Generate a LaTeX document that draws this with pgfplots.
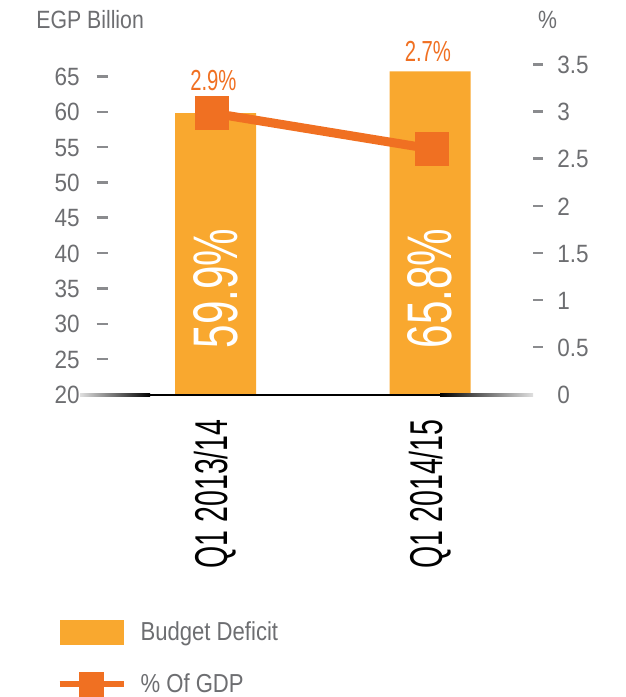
\documentclass[border=0pt]{standalone}
\usepackage{fontspec}
\setmainfont{Liberation Sans}
\newfontfamily\condBar{Liberation Sans}[FakeStretch=0.67]
\newfontfamily\condX{Liberation Sans}[FakeStretch=0.62]
\newfontfamily\condO{Liberation Sans}[FakeStretch=0.70]
\newfontfamily\condT{Liberation Sans}[FakeStretch=0.90]
\newfontfamily\condL{Liberation Sans}[FakeStretch=0.85]
\usepackage{pgfplots}
\pgfplotsset{compat=1.18}
\definecolor{barc}{HTML}{F9A82F}
\definecolor{linec}{HTML}{F07022}
\definecolor{txtgray}{HTML}{6D6E71}
\definecolor{dashgray}{HTML}{8A8B8E}
\newcommand{\ld}[1]{\makebox[13pt][r]{#1}\hspace{8.5pt}\textcolor{dashgray}{\rule[4pt]{5.5pt}{1.2pt}}}
\newcommand{\lnd}[1]{\makebox[13pt][r]{#1}\hspace{8.5pt}\rule{5.5pt}{0pt}}
\newcommand{\rd}[1]{\textcolor{dashgray}{\rule[4pt]{5pt}{1.2pt}}\hspace{7pt}#1}
\newcommand{\rnd}[1]{\rule{5pt}{0pt}\hspace{7pt}#1}
\begin{document}
\begin{tikzpicture}
\useasboundingbox (0,0) rectangle (313pt,348.5pt);
\begin{axis}[name=ax1,
  at={(40pt,151pt)}, anchor=south west,
  scale only axis, width=225pt, height=165pt,
  xmin=-0.632, xmax=1.466, ymin=20, ymax=66.7,
  axis line style={draw=none},
  major tick length=0pt,
  ytick={20,25,30,35,40,45,50,55,60,65},
  yticklabels={\lnd{20},\ld{25},\ld{30},\ld{35},\ld{40},\ld{45},\ld{50},\ld{55},\ld{60},\ld{65}},
  ytick pos=left,
  yticklabel style={anchor=east, inner sep=0pt, xshift=14pt, text=txtgray, font=\condT\fontsize{12.5pt}{14pt}\selectfont},
  xtick={0,1}, xtick pos=bottom,
  xticklabels={Q1 2013/14, Q1 2014/15},
  xticklabel style={rotate=90, anchor=east, inner sep=0pt, text=black, font=\condX\fontsize{23pt}{24pt}\selectfont},
  xticklabel shift=12pt,
  legend style={at={(rel axis cs:-0.053,-0.673)}, anchor=north west, draw=none, fill=none, inner sep=0pt, row sep=11pt, font=\condL\fontsize{13pt}{15pt}\selectfont, text=txtgray},
  legend cell align=left,
]
\addplot[ybar, bar width=40.5pt, bar shift=0pt, fill=barc, draw=none,
  legend image code/.code={\fill[barc] (0pt,-6.25pt) rectangle (32pt,6.25pt);}]
  coordinates {(0,59.9) (1,65.8)};
\addlegendentry{\hspace{5pt}Budget Deficit}
\addlegendimage{legend image code/.code={\draw[linec, line width=3pt] (0pt,0pt)--(32pt,0pt); \fill[linec] (10pt,-6pt) rectangle (22pt,6pt);}}
\addlegendentry{\hspace{5pt}\% Of GDP}
\node[rotate=90, text=white, inner sep=0pt, font=\condBar\fontsize{31.5pt}{32pt}\selectfont] at (axis cs:0,35.1) {59.9\%};
\node[rotate=90, text=white, inner sep=0pt, font=\condBar\fontsize{31.5pt}{32pt}\selectfont] at (axis cs:1,35.1) {65.8\%};
\end{axis}
\begin{axis}[name=ax2,
  at={(40pt,151pt)}, anchor=south west,
  scale only axis, width=225pt, height=165pt,
  xmin=-0.632, xmax=1.466, ymin=0, ymax=3.5,
  axis line style={draw=none}, clip=false,
  major tick length=0pt,
  xtick=\empty,
  ytick={0,0.5,1,1.5,2,2.5,3,3.5},
  yticklabels={\rnd{0},\rd{0.5},\rd{1},\rd{1.5},\rd{2},\rd{2.5},\rd{3},\rd{3.5}},
  yticklabel pos=right,
  yticklabel style={anchor=west, inner sep=0pt, xshift=1.5pt, text=txtgray, font=\condT\fontsize{12.5pt}{14pt}\selectfont},
]
\addplot[linec, line width=4.5pt, mark=square*, mark size=6.25pt, mark options={solid, fill=linec, draw=none}]
  coordinates {(-0.015,2.99) (1.007,2.61)};
\node[text=linec, inner sep=0pt, font=\condO\fontsize{14.5pt}{16pt}\selectfont] at (axis cs:-0.01,3.34) {2.9\%};
\node[text=linec, inner sep=0pt, font=\condO\fontsize{14.5pt}{16pt}\selectfont] at (axis cs:0.99,3.64) {2.7\%};
\end{axis}
\shade[left color=gray!25, right color=black] ([yshift=-0.6pt]ax1.south west) rectangle ([xshift=35pt,yshift=0.6pt]ax1.south west);
\fill[black] ([xshift=35pt,yshift=-0.6pt]ax1.south west) rectangle ([xshift=180pt,yshift=0.6pt]ax1.south west);
\shade[left color=black, right color=gray!25] ([xshift=180pt,yshift=-0.6pt]ax1.south west) rectangle ([xshift=226.5pt,yshift=0.6pt]ax1.south west);
\node[anchor=west, inner sep=0pt, text=txtgray, font=\condL\fontsize{12.5pt}{14pt}\selectfont] at (18pt,338.5pt) {EGP Billion};
\node[inner sep=0pt, text=txtgray, font=\condL\fontsize{12.5pt}{14pt}\selectfont] at (273.75pt,338.5pt) {\%};
\end{tikzpicture}
\end{document}
